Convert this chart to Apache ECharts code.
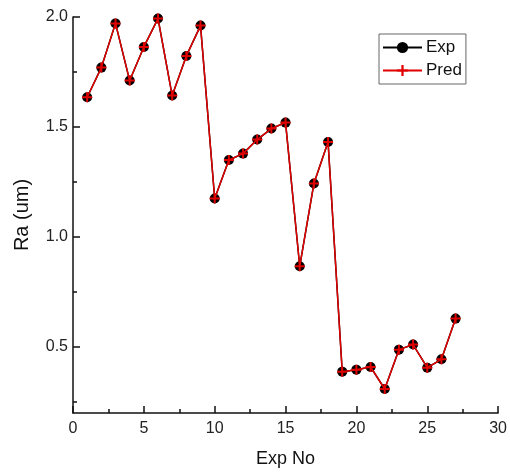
<!DOCTYPE html>
<html>
<head>
<meta charset="utf-8">
<script src="https://cdn.jsdelivr.net/npm/echarts@6/dist/echarts.min.js"></script>
<style>
  html, body { margin: 0; padding: 0; background: #fff; }
  #chart { width: 510px; height: 475px; }
</style>
</head>
<body>
<div id="chart"></div>
<script>
// experiment numbers
const expNo = [1, 2, 3, 4, 5, 6, 7, 8, 9, 10, 11, 12, 13, 14, 15, 16, 17, 18, 19, 20, 21, 22, 23, 24, 25, 26, 27];
// measured Ra
const expRa = [1.635, 1.77, 1.971, 1.711, 1.864, 1.993, 1.643, 1.823, 1.961, 1.175, 1.35, 1.379, 1.443, 1.493, 1.52,
  0.867, 1.243, 1.432, 0.388, 0.397, 0.409, 0.309, 0.488, 0.511, 0.406, 0.444, 0.629];
// predicted Ra
const predRa = [1.635, 1.77, 1.971, 1.711, 1.864, 1.993, 1.643, 1.823, 1.961, 1.175, 1.35, 1.379, 1.443, 1.493, 1.52,
  0.867, 1.243, 1.432, 0.388, 0.397, 0.409, 0.309, 0.488, 0.511, 0.406, 0.444, 0.629];
const yMajor = [0.5, 1.0, 1.5, 2.0];
const yMinor = [0.25, 0.75, 1.25, 1.75];

const font = "Liberation Sans, Arial, sans-serif";
const plus = "path://M4,0h2v4h4v2h-4v4h-2v-4h-4v-2h4z";

const chart = echarts.init(document.getElementById("chart"));
chart.setOption({
  animation: false,
  textStyle: { fontFamily: font },
  grid: { left: 73, right: 10, top: 17, bottom: 62 },
  legend: {
    orient: "vertical",
    left: 379,
    top: 34,
    padding: [5, 4, 5, 3],
    itemGap: 6,
    itemWidth: 39,
    itemHeight: 14,
    borderColor: "#666",
    borderWidth: 1,
    textStyle: { fontSize: 17, color: "#111", fontFamily: font, padding: [0, 0, 0, -1] },
    data: ["Exp", "Pred"],
  },
  xAxis: {
    type: "value",
    min: 0,
    max: 30,
    interval: 5,
    name: "Exp No",
    nameLocation: "middle",
    nameGap: 37,
    nameTextStyle: { fontSize: 18, color: "#111", fontFamily: font },
    splitLine: { show: false },
    axisLine: { lineStyle: { color: "#111", width: 1.5 } },
    axisTick: { inside: true, length: 7, lineStyle: { color: "#111", width: 1.5 } },
    minorTick: { show: true, splitNumber: 2, length: 4, lineStyle: { color: "#111", width: 1.5 } },
    axisLabel: { fontSize: 16, color: "#222", margin: 8 },
  },
  yAxis: [
    {
      type: "value",
      min: 0.2,
      max: 2.0,
      name: "Ra (um)",
      nameLocation: "middle",
      nameGap: 41,
      nameTextStyle: { fontSize: 20, color: "#111", fontFamily: font },
      splitLine: { show: false },
      axisLine: { show: true, lineStyle: { color: "#111", width: 1.5 } },
      axisTick: { inside: true, length: 7, customValues: yMajor, lineStyle: { color: "#111", width: 1.5 } },
      axisLabel: {
        fontSize: 16,
        color: "#222",
        margin: 5,
        customValues: yMajor,
        formatter: (v) => v.toFixed(1),
      },
    },
    {
      type: "value",
      min: 0.2,
      max: 2.0,
      position: "left",
      splitLine: { show: false },
      axisLine: { show: false },
      axisTick: { inside: true, length: 4, customValues: yMinor, lineStyle: { color: "#111", width: 1.5 } },
      axisLabel: { show: false },
    },
  ],
  series: [
    {
      name: "Exp",
      type: "line",
      data: expNo.map((x, i) => [x, expRa[i]]),
      symbol: "circle",
      symbolSize: 10,
      itemStyle: { color: "#000" },
      lineStyle: { color: "#000", width: 1.5 },
      z: 2,
    },
    {
      name: "Pred",
      type: "line",
      data: expNo.map((x, i) => [x, predRa[i]]),
      symbol: plus,
      symbolSize: 10,
      itemStyle: { color: "#e00000" },
      lineStyle: { color: "#e00000", width: 1.5 },
      z: 3,
    },
  ],
});
</script>
</body>
</html>
